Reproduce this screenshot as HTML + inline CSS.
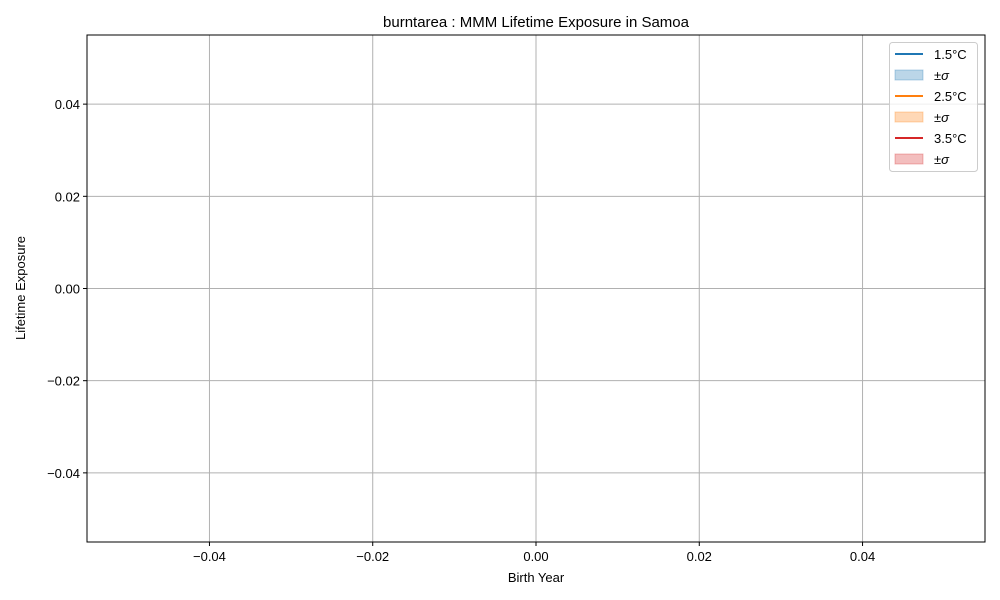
<!DOCTYPE html>
<html><head><meta charset="utf-8"><style>
body{margin:0;background:#fff;}
svg{display:block;font-family:"Liberation Sans","DejaVu Sans",sans-serif;}
</style></head><body>
<svg id="chart" width="1000" height="600" viewBox="0 0 1000 600">
<rect width="1000" height="600" fill="#fff"/>
<text x="536" y="27" text-anchor="middle" font-size="15">burntarea : MMM Lifetime Exposure in Samoa</text>
<g id="grid"></g>
<g id="series"></g>
<rect x="87" y="35" width="898" height="507" fill="none" stroke="#000" stroke-width="1"/>
<g id="ticks" font-size="13"></g>
<text x="536" y="582" text-anchor="middle" font-size="13">Birth Year</text>
<text transform="translate(25,288) rotate(-90)" text-anchor="middle" font-size="13">Lifetime Exposure</text>
<g>
<rect x="889.5" y="42.5" width="88" height="129" rx="3" fill="#fff" fill-opacity="0.8" stroke="#ccc"/>
<g><line x1="895" x2="923" y1="54" y2="54" stroke="#1f77b4" stroke-width="2"/><text x="934" y="59" font-size="13">1.5°C</text></g>
<g><rect x="895" y="70" width="28" height="10" fill="#1f77b4" fill-opacity="0.3" stroke="#1f77b4" stroke-opacity="0.3"/><text x="934" y="80" font-size="13">±<tspan font-style="italic">σ</tspan></text></g>
<g><line x1="895" x2="923" y1="96" y2="96" stroke="#ff7f0e" stroke-width="2"/><text x="934" y="101" font-size="13">2.5°C</text></g>
<g><rect x="895" y="112" width="28" height="10" fill="#ff7f0e" fill-opacity="0.3" stroke="#ff7f0e" stroke-opacity="0.3"/><text x="934" y="122" font-size="13">±<tspan font-style="italic">σ</tspan></text></g>
<g><line x1="895" x2="923" y1="138" y2="138" stroke="#d62728" stroke-width="2"/><text x="934" y="143" font-size="13">3.5°C</text></g>
<g><rect x="895" y="154" width="28" height="10" fill="#d62728" fill-opacity="0.3" stroke="#d62728" stroke-opacity="0.3"/><text x="934" y="164" font-size="13">±<tspan font-style="italic">σ</tspan></text></g>
</g>
</svg>
<script>
const xTicks=[-0.04,-0.02,0,0.02,0.04];
const yTicks=[-0.04,-0.02,0,0.02,0.04];
const years=[];
const mean15=[];const sd15=[];
const mean25=[];const sd25=[];
const mean35=[];const sd35=[];
const X0=87,X1=985,Y0=35,Y1=542,XMIN=-0.055,XMAX=0.055,YMIN=-0.055,YMAX=0.055;
const sx=v=>X0+(v-XMIN)/(XMAX-XMIN)*(X1-X0);
const sy=v=>Y1-(v-YMIN)/(YMAX-YMIN)*(Y1-Y0);
const NS="http://www.w3.org/2000/svg";
const grid=document.getElementById('grid'),ticks=document.getElementById('ticks'),ser=document.getElementById('series');
const fmt=v=>v===0?"0.00":(v<0?"\u2212":"")+Math.abs(v).toFixed(2);
function mk(t,a,p){const e=document.createElementNS(NS,t);for(const k in a)e.setAttribute(k,a[k]);p.appendChild(e);return e;}
xTicks.forEach(v=>{const x=sx(v);
const g=mk('line',{x1:x,x2:x,y1:Y0,y2:Y1,stroke:'#b0b0b0','stroke-width':1},grid);


mk('line',{x1:x,x2:x,y1:Y1,y2:Y1+4,stroke:'#000'},ticks);
const t=mk('text',{x:x,y:Y1+19,'text-anchor':'middle'},ticks);t.textContent=fmt(v);

});
yTicks.forEach(v=>{const y=sy(v);
const g=mk('line',{x1:X0,x2:X1,y1:y,y2:y,stroke:'#b0b0b0','stroke-width':1},grid);


mk('line',{x1:X0-4,x2:X0,y1:y,y2:y,stroke:'#000'},ticks);
const t=mk('text',{x:X0-7,y:y+5,'text-anchor':'end'},ticks);t.textContent=fmt(v);

});
[[mean15,sd15,'#1f77b4','1-5'],[mean25,sd25,'#ff7f0e','2-5'],[mean35,sd35,'#d62728','3-5']].forEach(([m,s,c,n])=>{
if(!m.length)return;
const up=years.map((y,i)=>sx(y)+','+sy(m[i]+s[i])),dn=years.map((y,i)=>sx(y)+','+sy(m[i]-s[i])).reverse();
const b=mk('polygon',{points:up.concat(dn).join(' '),fill:c,'fill-opacity':0.3},ser);


const l=mk('polyline',{points:years.map((y,i)=>sx(y)+','+sy(m[i])).join(' '),fill:'none',stroke:c,'stroke-width':1.5},ser);

});
</script>
</body></html>
